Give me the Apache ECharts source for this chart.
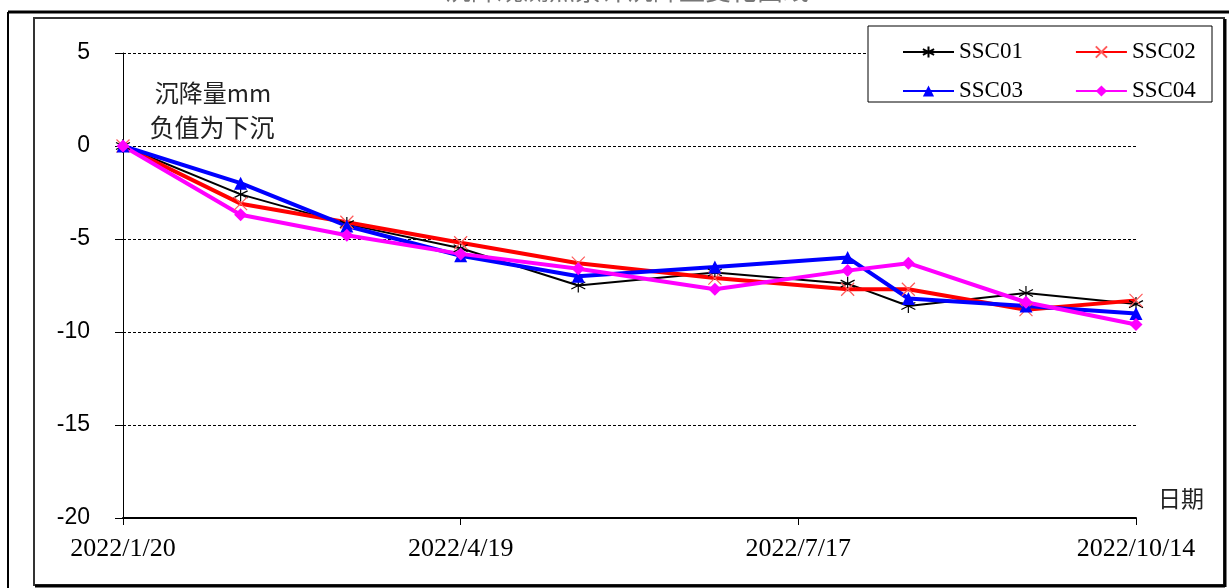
<!DOCTYPE html>
<html>
<head>
<meta charset="utf-8">
<script src="https://cdn.jsdelivr.net/npm/echarts@6/dist/echarts.min.js"></script>
<style>
  html, body { margin: 0; padding: 0; background: #fff; }
  #chart { width: 1229px; height: 588px; }
</style>
</head>
<body>
<div id="chart"></div>
<script>
// survey dates and settlement readings (mm, negative = sinking)
const dates = ['2022-01-20', '2022-02-20', '2022-03-20', '2022-04-19', '2022-05-20',
  '2022-06-25', '2022-07-30', '2022-08-15', '2022-09-15', '2022-10-14'];
const ssc01 = [0, -2.6, -4.2, -5.5, -7.5, -6.8, -7.4, -8.6, -7.9, -8.5];
const ssc02 = [0, -3.1, -4.1, -5.2, -6.3, -7.1, -7.7, -7.7, -8.8, -8.3];
const ssc03 = [0, -2.0, -4.3, -5.9, -7.0, -6.5, -6.0, -8.2, -8.6, -9.0];
const ssc04 = [0, -3.7, -4.8, -5.8, -6.6, -7.7, -6.7, -6.3, -8.4, -9.6];
const yTicks = [5, 0, -5, -10, -15, -20];
const startDate = '2022-01-20';
const endDate = '2022-10-14';
const tickStepDays = 89;

const DAY = 86400000;
const t0 = Date.parse(startDate + 'T00:00:00Z');
const dayOf = (d) => Math.round((Date.parse(d + 'T00:00:00Z') - t0) / DAY);
const fmtDay = (n) => {
  const d = new Date(t0 + n * DAY);
  return d.getUTCFullYear() + '/' + (d.getUTCMonth() + 1) + '/' + d.getUTCDate();
};
const pairs = (vals) => dates.map((d, i) => [dayOf(d), vals[i]]);

// marker shapes drawn as strokes
const asterisk = 'path://M0,0L0,20M-8.66,5L8.66,15M-8.66,15L8.66,5';
const cross = 'path://M0,0L20,20M0,20L20,0';

const chart = echarts.init(document.getElementById('chart'));

const serifFont = 'Liberation Serif';
const option = {
  animation: false,
  backgroundColor: '#fff',
  grid: { left: 123, right: 93, top: 53, bottom: 70 },
  legend: [
    {
      data: ['SSC01', 'SSC02'],
      left: 897, top: 35, itemWidth: 51, itemHeight: 14, itemGap: 52,
      textStyle: { fontFamily: serifFont, fontSize: 23, color: '#000', lineHeight: 24 },
      z: 5
    },
    {
      data: ['SSC03', 'SSC04'],
      left: 897, top: 74, itemWidth: 51, itemHeight: 14, itemGap: 52,
      textStyle: { fontFamily: serifFont, fontSize: 23, color: '#000', lineHeight: 24 },
      z: 5
    }
  ],
  xAxis: {
    type: 'value',
    min: 0,
    max: dayOf(endDate),
    interval: tickStepDays,
    name: '日期',
    nameLocation: 'end',
    nameGap: 22,
    nameTextStyle: {
      fontFamily: 'Noto Sans CJK SC', fontSize: 23, color: '#222',
      verticalAlign: 'bottom', padding: [0, 0, 8, 0]
    },
    axisLine: { onZero: false, lineStyle: { color: '#000', width: 2 } },
    axisTick: { show: true, length: 7, lineStyle: { color: '#000' } },
    axisLabel: {
      fontFamily: serifFont, fontSize: 26, color: '#000', margin: 18,
      formatter: (v) => fmtDay(v)
    },
    splitLine: { show: false }
  },
  yAxis: {
    type: 'value',
    min: yTicks[yTicks.length - 1],
    max: yTicks[0],
    interval: 5,
    axisLine: { show: true, onZero: false, lineStyle: { color: '#000', width: 1 } },
    axisTick: { show: true, length: 8, lineStyle: { color: '#000' } },
    axisLabel: { fontFamily: 'Liberation Sans', fontSize: 23, color: '#000', margin: 33 },
    splitLine: { show: true, lineStyle: { color: '#000', type: [3, 2], width: 1 } }
  },
  graphic: [
    // sheet / frame lines round the chart
    { type: 'line', shape: { x1: 8, y1: 12, x2: 1229, y2: 12 }, style: { stroke: '#000', lineWidth: 3 }, z: 10 },
    { type: 'line', shape: { x1: 8, y1: 12, x2: 8, y2: 588 }, style: { stroke: '#000', lineWidth: 2 }, z: 10 },
    { type: 'rect', shape: { x: 34, y: 18, width: 1190, height: 567 }, style: { fill: null, stroke: '#333', lineWidth: 2 }, z: 10 },
    { type: 'line', shape: { x1: 35, y1: 586, x2: 1225, y2: 586 }, style: { stroke: '#000', lineWidth: 3 }, z: 10 },
    { type: 'line', shape: { x1: 1225, y1: 19, x2: 1225, y2: 587 }, style: { stroke: '#000', lineWidth: 3 }, z: 10 },
    // title, cut off by the top of the picture
    {
      type: 'text', x: 627, y: 3, z: 10,
      style: {
        text: '沉降观测点累计沉降量变化曲线', fill: '#777',
        font: '26px "Noto Sans CJK SC"', textAlign: 'center', textVerticalAlign: 'bottom'
      }
    },
    // legend box
    { type: 'rect', shape: { x: 868, y: 26, width: 344, height: 76 }, style: { fill: '#fff', stroke: '#000', lineWidth: 1 }, z: 3 },
    // y axis caption
    {
      type: 'text', x: 213, y: 93, z: 10,
      style: {
        text: '沉降量mm', fill: '#222', font: '24px "Noto Sans CJK SC"',
        textAlign: 'center', textVerticalAlign: 'middle'
      }
    },
    {
      type: 'text', x: 212, y: 127, z: 10,
      style: {
        text: '负值为下沉', fill: '#222', font: '25px "Noto Sans CJK SC"',
        textAlign: 'center', textVerticalAlign: 'middle'
      }
    }
  ],
  series: [
    {
      name: 'SSC01', type: 'line', data: pairs(ssc01),
      symbol: asterisk, symbolSize: 14,
      lineStyle: { color: '#000', width: 2 },
      itemStyle: { color: '#000', borderColor: '#000', borderWidth: 1.2 }
    },
    {
      name: 'SSC02', type: 'line', data: pairs(ssc02),
      symbol: cross, symbolSize: 13,
      lineStyle: { color: '#ff0000', width: 4 },
      itemStyle: { color: '#ff0000', borderColor: '#ff5a5a', borderWidth: 1.2 }
    },
    {
      name: 'SSC03', type: 'line', data: pairs(ssc03),
      symbol: 'triangle', symbolSize: 13,
      lineStyle: { color: '#0000ff', width: 4 },
      itemStyle: { color: '#0000ff' }
    },
    {
      name: 'SSC04', type: 'line', data: pairs(ssc04),
      symbol: 'diamond', symbolSize: 13,
      lineStyle: { color: '#ff00ff', width: 4 },
      itemStyle: { color: '#ff00ff' }
    }
  ]
};

chart.setOption(option);
</script>
</body>
</html>
